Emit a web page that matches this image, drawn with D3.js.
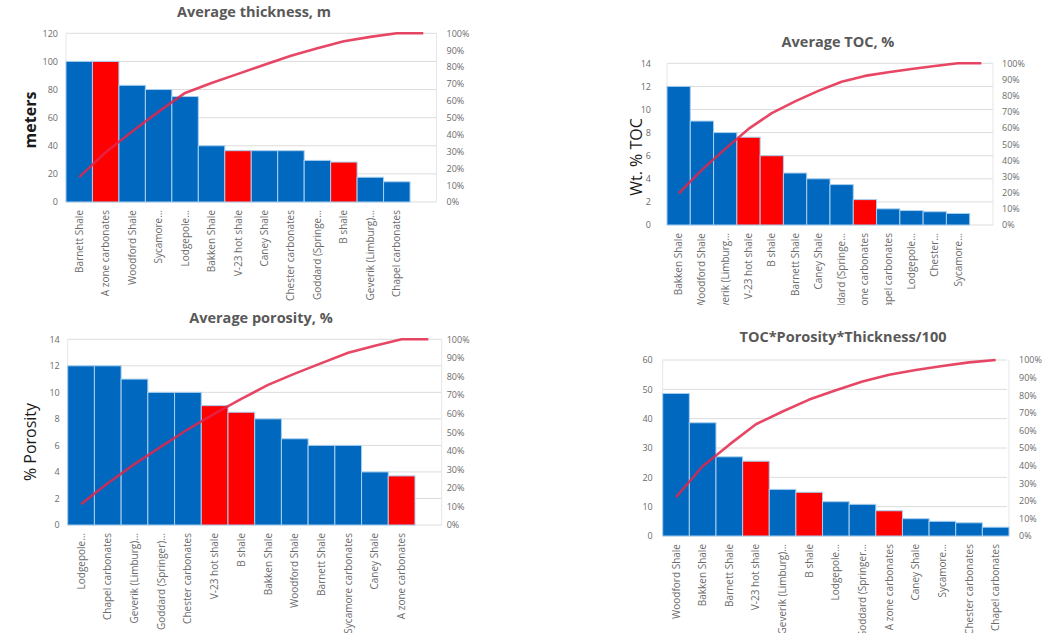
<!DOCTYPE html>
<html lang="en">
<head>
<meta charset="utf-8">
<script src="https://d3js.org/d3.v7.min.js"></script>
<style>
  body { margin: 0; background: #fff; }
  text { font-family: "Open Sans", sans-serif; }
</style>
</head>
<body>
<div id="chart"></div>
<script>
// ---- data ----
const highlighted = ["A zone carbonates", "V-23 hot shale", "B shale"];

const thickCats = ["Barnett Shale", "A zone carbonates", "Woodford Shale", "Sycamore\u2026", "Lodgepole\u2026",
  "Bakken Shale", "V-23 hot shale", "Caney Shale", "Chester carbonates", "Goddard (Springe\u2026",
  "B shale", "Geverik (Limburg)\u2026", "Chapel carbonates"];
const thickVals = [100, 100, 83, 80, 75, 40, 36.5, 36.5, 36.5, 29.6, 28.4, 17.6, 14.4];

const tocCats = ["Bakken Shale", "Woodford Shale", "Geverik (Limburg\u2026", "V-23 hot shale", "B shale",
  "Barnett Shale", "Caney Shale", "Goddard (Springe\u2026", "A zone carbonates", "Chapel carbonates",
  "Lodgepole\u2026", "Chester\u2026", "Sycamore\u2026"];
const tocVals = [12, 9, 8, 7.6, 6, 4.5, 4, 3.5, 2.2, 1.4, 1.25, 1.15, 1.0];

const porCats = ["Lodgepole\u2026", "Chapel carbonates", "Geverik (Limburg)\u2026", "Goddard (Springer)\u2026",
  "Chester carbonates", "V-23 hot shale", "B shale", "Bakken Shale", "Woodford Shale", "Barnett Shale",
  "Sycamore carbonates", "Caney Shale", "A zone carbonates"];
const porVals = [12, 12, 11, 10, 10, 9, 8.5, 8, 6.5, 6, 6, 4, 3.7];

const prodCats = ["Woodford Shale", "Bakken Shale", "Barnett Shale", "V-23 hot shale", "Geverik (Limburg)\u2026",
  "B shale", "Lodgepole\u2026", "Goddard (Springer\u2026", "A zone carbonates", "Caney Shale",
  "Sycamore\u2026", "Chester carbonates", "Chapel carbonates"];
const prodVals = [48.6, 38.6, 27, 25.5, 15.9, 14.9, 11.7, 10.8, 8.6, 5.9, 5.0, 4.5, 3.0];

const pctTicks = [0, 0.1, 0.2, 0.3, 0.4, 0.5, 0.6, 0.7, 0.8, 0.9, 1];

const W = 1060, H = 633;
const svg = d3.select("#chart").append("svg")
  .attr("width", W).attr("height", H);

const blue = "#0068bf", red = "#ff0000", lineColor = "#e3264a";

function pareto(o) {
  const g = svg.append("g");
  const n = o.cats.length + o.extra;
  const x = d3.scaleBand().domain(d3.range(n)).range([o.x0, o.x1]).padding(0);
  const y = d3.scaleLinear().domain([0, o.max]).range([o.yBot, o.yTop]);
  const yp = d3.scaleLinear().domain([0, 1]).range([o.yBot, o.yTop]);
  const gridRight = o.gridRight || o.x1;

  // gridlines
  g.append("g").selectAll("line")
    .data(y.ticks(o.max / o.step))
    .join("line")
    .attr("x1", o.x0).attr("x2", gridRight)
    .attr("y1", d => y(d)).attr("y2", d => y(d))
    .attr("stroke", "#dcdcdc").attr("stroke-width", 1);
  g.append("line").attr("x1", o.x0).attr("x2", o.x0).attr("y1", o.yTop).attr("y2", o.yBot)
    .attr("stroke", "#e6e6e6");
  g.append("line").attr("x1", o.x1).attr("x2", o.x1).attr("y1", o.yTop).attr("y2", o.yBot)
    .attr("stroke", "#e6e6e6");

  // left ticks
  const leftAxis = d3.axisLeft(y).ticks(o.max / o.step).tickSize(0).tickPadding(o.lpad);
  const la = g.append("g").attr("transform", `translate(${o.x0},0)`).call(leftAxis);
  la.select(".domain").remove();
  la.selectAll("text").attr("fill", "#6b6b6b").style("font-size", "9px")
    .style("font-family", "'Open Sans', sans-serif");

  // right ticks
  const rightAxis = d3.axisRight(yp).tickValues(pctTicks).tickFormat(d3.format(".0%"))
    .tickSize(0).tickPadding(o.rpad);
  const ra = g.append("g").attr("transform", `translate(${o.x1},0)`).call(rightAxis);
  ra.select(".domain").remove();
  ra.selectAll("text").attr("fill", "#6b6b6b").style("font-size", "9px")
    .style("font-family", "'Open Sans', sans-serif");

  // bars
  g.append("g").selectAll("rect")
    .data(o.vals)
    .join("rect")
    .attr("x", (d, i) => x(i))
    .attr("width", x.bandwidth())
    .attr("y", d => y(d))
    .attr("height", d => o.yBot - y(d))
    .attr("fill", (d, i) => highlighted.includes(o.cats[i]) ? red : blue)
    .attr("stroke", "#a8d0f0").attr("stroke-width", 1);

  // cumulative line
  const total = d3.sum(o.vals);
  let run = 0;
  const cum = o.vals.map(v => (run += v) / total);
  for (let k = 0; k < o.extra; k++) cum.push(1);
  const line = d3.line()
    .x((d, i) => x(i) + x.bandwidth() / 2)
    .y(d => yp(d));
  g.append("path").datum(cum)
    .attr("d", line)
    .attr("fill", "none")
    .attr("stroke", lineColor)
    .attr("stroke-opacity", 0.85)
    .attr("stroke-linejoin", "round")
    .attr("stroke-width", 2.6);

  // category labels
  const lg = g.append("g");
  if (o.clip) {
    const id = "clip" + Math.round(o.x0);
    svg.append("clipPath").attr("id", id).append("rect")
      .attr("x", o.x0 - 20).attr("y", o.yBot).attr("width", o.x1 - o.x0 + 40).attr("height", o.clip - o.yBot);
    lg.attr("clip-path", `url(#${id})`);
  }
  lg.selectAll("text")
    .data(o.cats)
    .join("text")
    .attr("transform", (d, i) => `translate(${x(i) + x.bandwidth() / 2 + 3.5},${o.yBot + 8}) rotate(-90)`)
    .attr("text-anchor", "end")
    .attr("fill", "#6b6b6b")
    .style("font-size", "10px")
    .text(d => d);

  // title
  g.append("text")
    .attr("x", o.tx).attr("y", o.ty)
    .attr("text-anchor", "middle")
    .attr("fill", "#595959")
    .style("font-size", "14.5px")
    .style("font-weight", "bold")
    .text(o.title);

  // y label
  if (o.ylabel) {
    g.append("text")
      .attr("transform", `translate(${o.ylx},${o.yly}) rotate(-90)`)
      .attr("text-anchor", "middle")
      .attr("fill", "#1a1a1a")
      .style("font-size", "16px")
      .style("font-weight", o.ybold ? "bold" : "normal")
      .text(o.ylabel);
  }
}

pareto({cats: thickCats, vals: thickVals, extra: 1, max: 120, step: 20,
  x0: 66, x1: 436.5, yTop: 33.3, yBot: 202, lpad: 8, rpad: 10,
  title: "Average thickness, m", tx: 254, ty: 17,
  ylabel: "meters", ylx: 36, yly: 120, ybold: true});

pareto({cats: tocCats, vals: tocVals, extra: 1, max: 14, step: 2,
  x0: 667, x1: 993, yTop: 63.3, yBot: 225, lpad: 16, rpad: 9, clip: 305,
  title: "Average TOC, %", tx: 838, ty: 47,
  ylabel: "Wt. % TOC", ylx: 642, yly: 157, ybold: false});

pareto({cats: porCats, vals: porVals, extra: 1, max: 14, step: 2,
  x0: 67.7, x1: 441.7, yTop: 339.3, yBot: 525, lpad: 8, rpad: 5,
  title: "Average porosity, %", tx: 261, ty: 323,
  ylabel: "% Porosity", ylx: 36, yly: 442, ybold: false});

pareto({cats: prodCats, vals: prodVals, extra: 0, max: 60, step: 10,
  x0: 662.7, x1: 1009, gridRight: 1007, yTop: 360, yBot: 536, lpad: 10, rpad: 10,
  title: "TOC*Porosity*Thickness/100", tx: 843, ty: 342});
</script>
</body>
</html>
